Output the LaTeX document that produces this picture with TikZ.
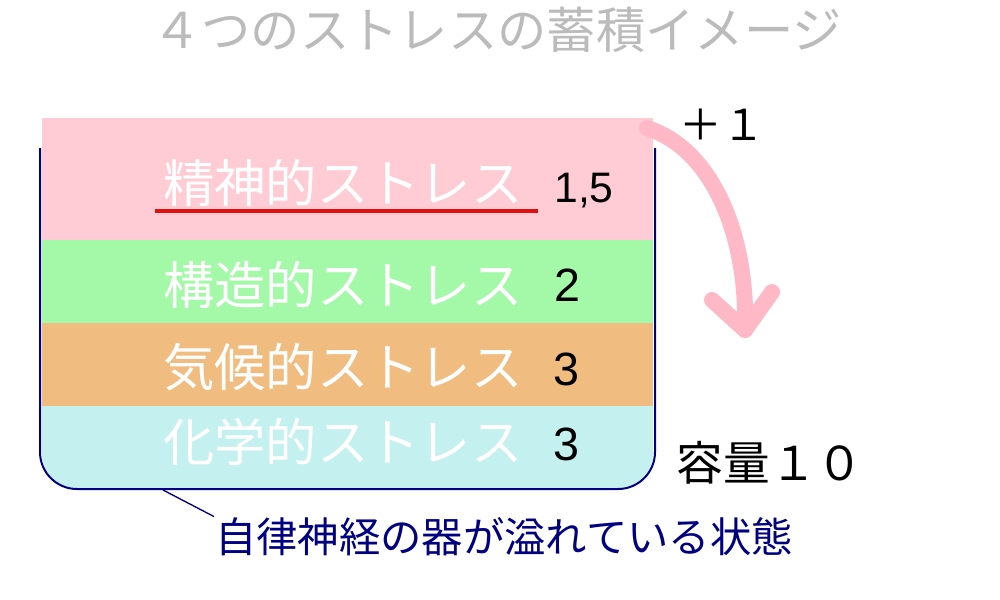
\documentclass[tikz,border=0pt]{standalone}
\usepackage{fontspec}
\setmainfont{Liberation Sans}
\newfontfamily\jpfont{Noto Sans CJK JP}
\definecolor{layerpink}{RGB}{255,204,213}
\definecolor{layergreen}{RGB}{163,249,168}
\definecolor{layerorange}{RGB}{240,188,128}
\definecolor{layercyan}{RGB}{196,240,240}
\definecolor{cupnavy}{RGB}{0,0,128}
\definecolor{titlegray}{RGB}{187,187,187}
\definecolor{arrowpink}{RGB}{255,184,198}
\definecolor{linered}{RGB}{224,16,16}

\begin{document}
\begin{tikzpicture}[x=0.75pt,y=0.75pt,yscale=-1,xscale=1,
  layertext/.style={anchor=west,inner sep=0.75pt,text=white,font=\jpfont\fontsize{38.5}{42}\selectfont},
  numtext/.style={inner sep=0.75pt,font=\fontsize{35}{38}\selectfont},
  jptext/.style={inner sep=0.75pt,font=\jpfont\fontsize{33}{36}\selectfont},
  pinkstroke/.style={draw=arrowpink,line width=12,line cap=round,line join=round}]
\useasboundingbox (0,0) rectangle (1000,600);

% Title
\node[jptext,text=titlegray,font=\jpfont\fontsize{37}{40}\selectfont] (title) at (497,30) {４つのストレスの蓄積イメージ};

% Layers
\fill[layerpink] (42,118) rectangle (653,240);
\fill[layergreen] (42,240) rectangle (653,323);
\fill[layerorange] (42,323) rectangle (653,406);
\fill[layercyan] (42,406) -- (42,453) arc[start angle=180,end angle=90,radius=35] -- (618,488) arc[start angle=90,end angle=0,radius=35] -- (653,406) -- cycle;

% Container
\draw[cupnavy,line width=1.5] (40,148) -- (40,452) arc[start angle=180,end angle=90,radius=37] -- (618,489) arc[start angle=90,end angle=0,radius=37] -- (655,148);
\coordinate (rim) at (163,490);

% Layer texts
\node[layertext] (mental) at (162,183) {精神的ストレス};
\draw[linered,line width=2.5] (155,211) -- (538,211);
\node[numtext,font=\fontsize{32}{36}\selectfont] (mentalval) at (584,191) {1,5};
\node[layertext] (struct) at (162,285) {構造的ストレス};
\node[numtext] (structval) at (567,285) {2};
\node[layertext] (climate) at (162,367) {気候的ストレス};
\node[numtext] (climateval) at (566,369) {3};
\node[layertext] (chem) at (162,442) {化学的ストレス};
\node[numtext] (chemval) at (566,444) {3};

% Overflow
\node[jptext,font=\jpfont\fontsize{32}{36}\selectfont] (plusone) at (722,125) {＋１};
\coordinate (spill) at (647,128);
\coordinate (drop) at (745,330);
\draw[pinkstroke] (spill) .. controls (715,150) and (748,240) .. (drop);
\draw[pinkstroke] (712,300) -- (drop) -- (772,292);

% Capacity
\node[jptext,font=\jpfont\fontsize{35}{38}\selectfont] (capacity) at (770,463) {容量１０};

% Bottom label
\node[jptext,text=cupnavy,anchor=west,font=\jpfont\fontsize{31}{34}\selectfont] (state) at (214,537) {自律神経の器が溢れている状態};
\draw[cupnavy,line width=1] (rim) -- (state.north west);

\end{tikzpicture}
\end{document}
